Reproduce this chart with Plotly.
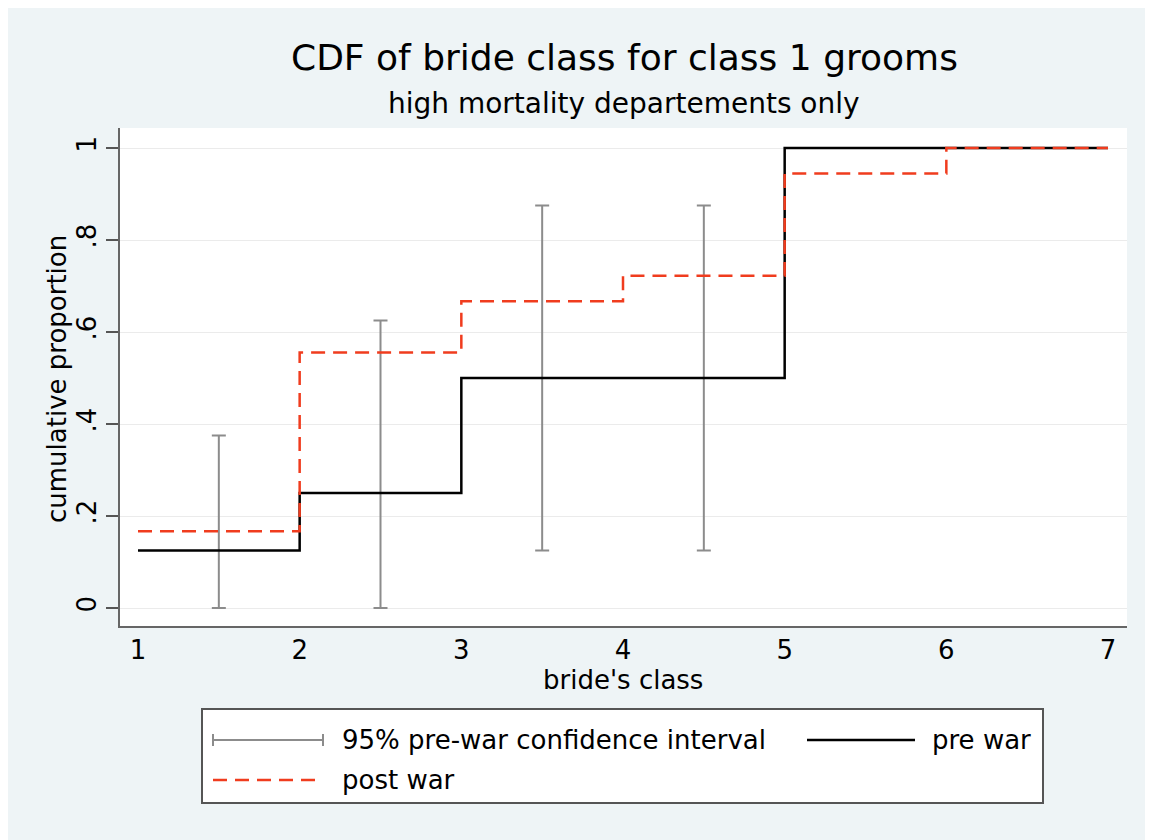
import plotly.graph_objects as go

# ---- data ----
class_x = [1, 2, 3, 4, 5, 6, 7]
pre_war = [0.125, 0.25, 0.5, 0.5, 1.0, 1.0, 1.0]
post_war = [0.1667, 0.5556, 0.6667, 0.7222, 0.9444, 1.0, 1.0]
ci_x = [1.5, 2.5, 3.5, 4.5, 5.5, 6.5]
ci_low = [0.0, 0.0, 0.125, 0.125, 1.0, 1.0]
ci_high = [0.375, 0.625, 0.875, 0.875, 1.0, 1.0]
y_ticks = [0, 0.2, 0.4, 0.6, 0.8, 1]
y_ticklabels = ["0", ".2", ".4", ".6", ".8", "1"]
x_ticks = [1, 2, 3, 4, 5, 6, 7]

FONT = "DejaVu Sans"
BG = "#EEF4F6"
GRAY = "#8C8C8C"
RED = "#F03C1E"

OFF = 8  # page body margin
W, H = 1153 - OFF, 840 - OFF
# plot area in reference page pixels
L, R, T, B = 120, 1127, 128, 626


def px(x):
    return (x - L) / (R - L)


def py(y):
    return (B - y) / (B - T)


fig = go.Figure()

fig.add_trace(go.Scatter(
    x=ci_x, y=ci_low, mode="markers", marker=dict(size=1, color="rgba(0,0,0,0)"),
    error_y=dict(type="data", symmetric=False,
                 array=[h - l for h, l in zip(ci_high, ci_low)],
                 arrayminus=[0] * len(ci_x), color=GRAY, thickness=2, width=7),
    showlegend=False, hoverinfo="skip"))

fig.add_trace(go.Scatter(
    x=class_x, y=pre_war, mode="lines", line=dict(color="black", width=2.5, shape="hv"),
    showlegend=False))

fig.add_trace(go.Scatter(
    x=class_x, y=post_war, mode="lines",
    line=dict(color=RED, width=2.5, shape="hv", dash="14px,8px"),
    showlegend=False))

shapes = []
annotations = []

# legend box
shapes.append(dict(type="rect", xref="paper", yref="paper", x0=px(202), x1=px(1043), y0=py(709), y1=py(803),
                   fillcolor="white", line=dict(color="#555555", width=2)))
# CI legend symbol
ly1, ly2 = 740, 780
shapes.append(dict(type="line", xref="paper", yref="paper", x0=px(213), x1=px(323), y0=py(ly1), y1=py(ly1),
                   line=dict(color=GRAY, width=2)))
for xx in (213, 323):
    shapes.append(dict(type="line", xref="paper", yref="paper", x0=px(xx), x1=px(xx), y0=py(ly1 - 6), y1=py(ly1 + 6),
                       line=dict(color=GRAY, width=2)))
# pre war legend symbol
shapes.append(dict(type="line", xref="paper", yref="paper", x0=px(807), x1=px(915), y0=py(ly1), y1=py(ly1),
                   line=dict(color="black", width=2.5)))
# post war legend symbol
shapes.append(dict(type="line", xref="paper", yref="paper", x0=px(213), x1=px(323), y0=py(ly2), y1=py(ly2),
                   line=dict(color=RED, width=2.5, dash="14px,8px")))

for txt, xx, yy in [("95% pre-war confidence interval", 340, ly1), ("pre war", 930, ly1), ("post war", 340, ly2)]:
    annotations.append(dict(text=txt, xref="paper", yref="paper", x=px(xx), y=py(yy), xanchor="left",
                            yanchor="middle", showarrow=False, font=dict(family=FONT, size=26, color="black")))

annotations.append(dict(text="CDF of bride class for class 1 grooms", xref="paper", yref="paper",
                        x=px(624), y=py(57), xanchor="center", yanchor="middle", showarrow=False,
                        font=dict(family=FONT, size=36, color="black")))
annotations.append(dict(text="high mortality departements only", xref="paper", yref="paper",
                        x=px(624), y=py(103), xanchor="center", yanchor="middle", showarrow=False,
                        font=dict(family=FONT, size=28, color="black")))
# axis titles
annotations.append(dict(text="bride's class", xref="paper", yref="paper",
                        x=px(623), y=py(680), xanchor="center", yanchor="middle", showarrow=False,
                        font=dict(family=FONT, size=26, color="black")))
annotations.append(dict(text="cumulative proportion", xref="paper", yref="paper", textangle=-90,
                        x=px(57), y=py(379), xanchor="center", yanchor="middle", showarrow=False,
                        font=dict(family=FONT, size=26, color="black")))

fig.update_layout(
    width=W, height=H,
    margin=dict(l=L - OFF, r=1153 - R, t=T - OFF, b=840 - B),
    paper_bgcolor=BG, plot_bgcolor="white",
    shapes=shapes, annotations=annotations,
    showlegend=False,
    font=dict(family=FONT, color="black"),
)

fig.update_xaxes(
    range=[1 - 18 / 161.7, 7 + 19 / 161.7], tickvals=x_ticks, ticktext=[str(v) for v in x_ticks],
    showgrid=False, zeroline=False, showline=True, linecolor="#666666", linewidth=2,
    ticks="", tickfont=dict(family=FONT, size=26),
)
fig.update_yaxes(
    range=[-18 / 460, 1 + 20 / 460], tickvals=y_ticks, ticktext=y_ticklabels, tickangle=-90,
    showgrid=True, gridcolor="#EBEBEB", gridwidth=1, zeroline=False,
    showline=True, linecolor="#666666", linewidth=2,
    ticks="outside", ticklen=12, tickcolor="#555555", tickwidth=2,
    tickfont=dict(family=FONT, size=26),
)

fig.write_html("out.html")
